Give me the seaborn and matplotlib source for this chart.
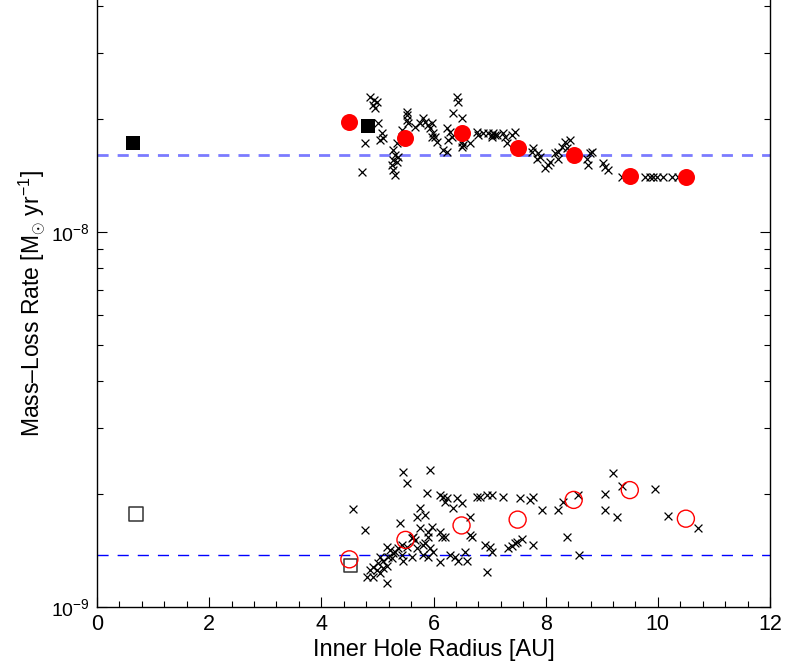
import numpy as np
import pandas as pd
import matplotlib
matplotlib.use("Agg")
import matplotlib.pyplot as plt
import seaborn as sns
from matplotlib.ticker import MultipleLocator, FixedLocator, LogFormatterSciNotation, NullFormatter

# ---------------- data ----------------
# upper group: individual simulations (crosses), Mdot in units of 1e-8 Msun/yr
upper_x = [4.87, 4.94, 4.99, 4.92, 4.96, 5.01, 4.78, 5.08, 5.10, 5.05, 4.73,
           5.35, 5.28, 5.31, 5.28, 5.26, 5.35, 5.28, 5.31, 5.37,
           5.53, 5.53, 5.53, 5.55, 5.44,
           5.67, 5.76, 5.81, 5.85, 5.90, 5.97, 5.94, 5.99, 6.03, 6.06, 5.97,
           6.17, 6.24, 6.24, 6.29, 6.33, 6.26,
           6.42, 6.44, 6.35, 6.51, 6.51, 6.53, 6.51, 6.65,
           6.78, 6.79, 6.88, 6.97, 7.04, 7.10,
           7.06, 7.04, 7.13, 7.24, 7.28, 7.40, 7.45, 7.31,
           7.77, 7.76, 7.86, 7.90, 7.85, 8.08, 8.04, 7.99,
           8.17, 8.22, 8.29, 8.35, 8.38, 8.43, 8.22,
           8.79, 8.83, 8.74, 8.76, 9.02, 9.06, 9.11, 9.36, 9.45,
           9.77, 9.86, 9.91, 9.99, 10.09, 10.25, 10.36]
upper_y = [2.29, 2.25, 2.22, 2.18, 2.14, 1.95, 1.73, 1.84, 1.78, 1.76, 1.445,
           1.73, 1.65, 1.60, 1.56, 1.51, 1.54, 1.46, 1.42, 1.585,
           2.09, 2.05, 1.99, 1.95, 1.87,
           1.91, 1.95, 2.01, 1.96, 1.93, 1.95, 1.89, 1.84, 1.79, 1.74, 1.79,
           1.65, 1.63, 1.89, 1.85, 1.79, 1.76,
           2.29, 2.22, 2.08, 2.01, 1.74, 1.71, 1.69, 1.73,
           1.85, 1.81, 1.84, 1.84, 1.81, 1.81,
           1.84, 1.79, 1.81, 1.84, 1.79, 1.81, 1.85, 1.73,
           1.67, 1.63, 1.62, 1.585, 1.57, 1.54, 1.51, 1.48,
           1.62, 1.63, 1.69, 1.74, 1.67, 1.76, 1.57,
           1.62, 1.63, 1.57, 1.51, 1.53, 1.49, 1.46, 1.40, 1.40,
           1.40, 1.40, 1.40, 1.40, 1.40, 1.40, 1.40]

# lower group: crosses, Mdot in units of 1e-9 Msun/yr
lower_x = [5.46, 5.94, 5.53, 4.56, 4.78,
           5.88, 6.12, 6.17, 6.24, 6.21, 6.42, 6.51, 6.35, 6.78, 6.95,
           5.76, 5.85, 5.71, 5.40,
           5.76, 5.90, 5.97, 5.90, 5.85, 6.12, 6.21, 6.15,
           5.62, 5.67, 5.63, 6.65, 6.65, 6.69,
           5.17, 5.22, 5.31, 5.37, 5.28, 5.44, 5.53,
           5.71, 5.81, 5.94, 5.99,
           5.05, 5.10, 5.19, 5.26, 5.44, 5.46, 5.62,
           5.81, 5.90, 6.29, 6.38, 6.56, 6.12, 6.44, 6.60,
           4.92, 4.99, 4.87, 5.05, 4.81, 4.92, 5.17, 5.10, 5.01, 5.17,
           6.92, 6.95,
           6.83, 7.04, 7.24, 7.54, 7.72, 7.77, 7.94, 8.22, 8.31, 8.58,
           9.20, 9.36, 9.06, 9.06, 9.27, 9.95, 10.18,
           7.01, 7.04, 7.33, 7.40, 7.45, 7.49, 7.58, 7.77, 8.38, 8.59,
           10.72]
lower_y = [2.29, 2.32, 2.14, 1.83, 1.60,
           2.01, 1.99, 1.96, 1.95, 1.91, 1.95, 1.89, 1.84, 1.96, 1.99,
           1.84, 1.76, 1.74, 1.67,
           1.62, 1.585, 1.63, 1.54, 1.48, 1.585, 1.54, 1.54,
           1.53, 1.51, 1.54, 1.74, 1.56, 1.54,
           1.445, 1.42, 1.40, 1.44, 1.39, 1.46, 1.445,
           1.44, 1.46, 1.44, 1.40,
           1.36, 1.33, 1.36, 1.35, 1.38, 1.33, 1.36,
           1.38, 1.36, 1.38, 1.36, 1.40, 1.32, 1.33, 1.33,
           1.28, 1.255, 1.255, 1.23, 1.20, 1.20, 1.29, 1.27, 1.31, 1.16,
           1.46, 1.24,
           1.96, 1.99, 1.96, 1.95, 1.93, 1.96, 1.81, 1.81, 1.91, 1.99,
           2.28, 2.10, 2.00, 1.81, 1.74, 2.06, 1.75,
           1.445, 1.40, 1.44, 1.45, 1.48, 1.49, 1.52, 1.46, 1.54, 1.38,
           1.62]

# binned means
bin_x = [4.5, 5.5, 6.5, 7.5, 8.5, 9.5, 10.5]
bin_upper = [1.96, 1.78, 1.84, 1.67, 1.60, 1.41, 1.40]   # x 1e-8
bin_lower = [1.34, 1.51, 1.65, 1.71, 1.93, 2.05, 1.72]   # x 1e-9

# reference models (squares)
sq_filled_x = [0.65, 4.83]
sq_filled_y = [1.73, 1.92]   # x 1e-8
sq_open_x = [0.70, 4.52]
sq_open_y = [1.77, 1.29]     # x 1e-9

ref_upper = 1.60e-8
ref_lower = 1.38e-9

y_major_ticks = [1e-9, 1e-8]
y_minor_ticks = [m * 1e-9 for m in range(2, 10)] + [m * 1e-8 for m in range(2, 5)]

# ---------------- frames ----------------
df_up = pd.DataFrame({"r": upper_x, "mdot": np.array(upper_y) * 1e-8})
df_lo = pd.DataFrame({"r": lower_x, "mdot": np.array(lower_y) * 1e-9})
df_bu = pd.DataFrame({"r": bin_x, "mdot": np.array(bin_upper) * 1e-8})
df_bl = pd.DataFrame({"r": bin_x, "mdot": np.array(bin_lower) * 1e-9})
df_sf = pd.DataFrame({"r": sq_filled_x, "mdot": np.array(sq_filled_y) * 1e-8})
df_so = pd.DataFrame({"r": sq_open_x, "mdot": np.array(sq_open_y) * 1e-9})

sns.set_style("ticks")
plt.rcParams["font.family"] = ["Liberation Sans", "DejaVu Sans"]
plt.rcParams["mathtext.fontset"] = "custom"
plt.rcParams["mathtext.rm"] = "Liberation Sans"
plt.rcParams["mathtext.it"] = "Liberation Sans:italic"
plt.rcParams["lines.scale_dashes"] = False
plt.rcParams["text.color"] = "black"
plt.rcParams["axes.labelcolor"] = "black"
plt.rcParams["xtick.color"] = "black"
plt.rcParams["ytick.color"] = "black"

fig = plt.figure(figsize=(7.89, 6.66), dpi=100)
ax = fig.add_axes([97 / 789, 59 / 666, (770 - 97) / 789, 607 / 666])

ax.axhline(ref_upper, color="#7b7bff", lw=2.0, dashes=(8, 6.5), zorder=1)
ax.axhline(ref_lower, color="#0000ff", lw=1.0, dashes=(8, 6.5), zorder=1)

sns.scatterplot(data=df_up, x="r", y="mdot", marker="x", color="black",
                s=32, linewidth=0.9, ax=ax, zorder=2)
sns.scatterplot(data=df_lo, x="r", y="mdot", marker="x", color="black",
                s=32, linewidth=0.9, ax=ax, zorder=2)
sns.scatterplot(data=df_sf, x="r", y="mdot", marker="s", color="black",
                s=105, linewidth=0, ax=ax, zorder=3)
sns.scatterplot(data=df_so, x="r", y="mdot", marker="s", facecolor="none",
                edgecolor="#333333", s=95, linewidth=1.1, ax=ax, zorder=3)
sns.scatterplot(data=df_bu, x="r", y="mdot", marker="o", color="red",
                s=150, linewidth=0, ax=ax, zorder=4)
sns.scatterplot(data=df_bl, x="r", y="mdot", marker="o", facecolor="none",
                edgecolor="red", s=150, linewidth=1.0, ax=ax, zorder=4)

ax.set_yscale("log")
ax.set_xlim(0, 12)
ax.set_ylim(1e-9, 10 ** (-9 + 607 / 375))
ax.xaxis.set_major_locator(MultipleLocator(2))
ax.xaxis.set_minor_locator(MultipleLocator(0.4))
ax.yaxis.set_major_locator(FixedLocator(y_major_ticks))
ax.yaxis.set_major_formatter(LogFormatterSciNotation())
ax.yaxis.set_minor_locator(FixedLocator(y_minor_ticks))
ax.yaxis.set_minor_formatter(NullFormatter())

for s in ["left", "right", "bottom"]:
    ax.spines[s].set_visible(True)
    ax.spines[s].set_linewidth(1.0)
    ax.spines[s].set_color("black")
ax.spines["top"].set_visible(False)

ax.tick_params(which="both", direction="in", top=False, right=True, colors="black")
ax.tick_params(which="major", length=7, width=0.8)
ax.tick_params(which="minor", length=4, width=0.8)
ax.tick_params(axis="x", pad=5, labelsize=15.5)
ax.tick_params(axis="y", pad=5, labelsize=14)

ax.set_xlabel("Inner Hole Radius [AU]", fontsize=17, labelpad=3)
ax.set_ylabel(r"Mass–Loss Rate [M$_{\odot}$ yr$^{-1}$]", fontsize=16.5, labelpad=2)

fig.savefig("out.png", dpi=100)
